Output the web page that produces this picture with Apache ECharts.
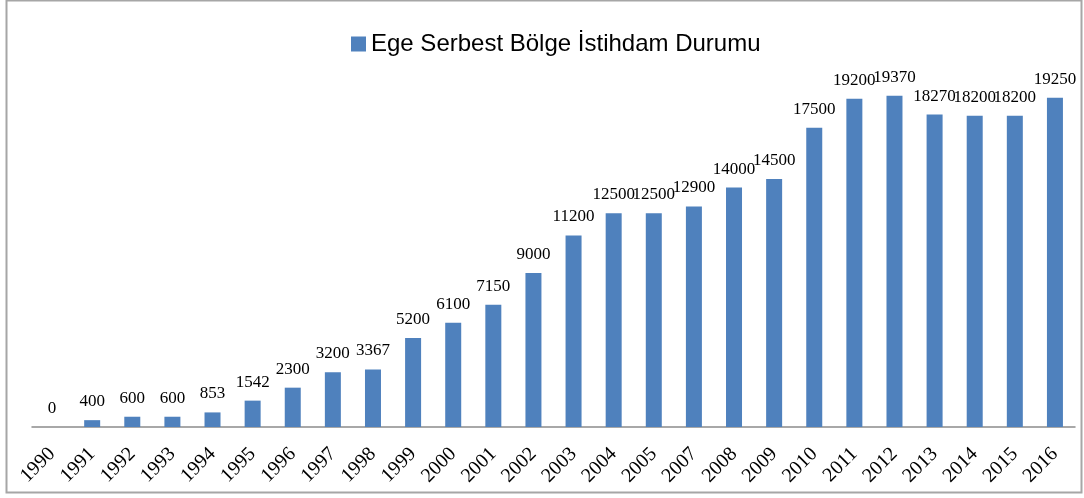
<!DOCTYPE html>
<html><head><meta charset="utf-8">
<script src="https://cdn.jsdelivr.net/npm/echarts@6/dist/echarts.min.js"></script>
<style>html,body{margin:0;padding:0;background:#fff}#c{width:1084px;height:498px}</style>
</head><body><div id="c"></div>
<script>
const categories = ['1990','1991','1992','1993','1994','1995','1996','1997','1998','1999','2000','2001','2002','2003','2004','2005','2007','2008','2009','2010','2011','2012','2013','2014','2015','2016'];
const values = [0,400,600,600,853,1542,2300,3200,3367,5200,6100,7150,9000,11200,12500,12500,12900,14000,14500,17500,19200,19370,18270,18200,18200,19250];
const seriesName = 'Ege Serbest Bölge İstihdam Durumu';

const chart = echarts.init(document.getElementById('c'), null, {renderer:'canvas'});
chart.setOption({
  animation:false,
  backgroundColor:'#fff',
  graphic:[{type:'rect',shape:{x:6.5,y:0.5,width:1075,height:492},style:{fill:'none',stroke:'#a6a6a6',lineWidth:2},silent:true}],
  legend:{
    data:[seriesName], top:27, left:346, itemWidth:15, itemHeight:15, itemGap:7,
    icon:'rect',
    textStyle:{fontFamily:'Liberation Sans', fontSize:24, color:'#000'}
  },
  grid:{left:32, right:9, top:85, bottom:71, containLabel:false},
  xAxis:{
    type:'category', data:categories,
    axisLine:{lineStyle:{color:'#8c8c8c', width:1.5}},
    axisTick:{show:false},
    axisLabel:{rotate:45, interval:0, fontFamily:'Liberation Serif', fontSize:20, color:'#000', margin:24}
  },
  yAxis:{type:'value', min:0, max:20000, show:false, splitLine:{show:false}},
  series:[{
    name:seriesName, type:'bar', data:values, barWidth:16,
    itemStyle:{color:'#4F81BD'},
    label:{show:true, position:'top', distance:10, fontFamily:'Liberation Serif', fontSize:17, color:'#000'}
  }]
});
</script></body></html>
